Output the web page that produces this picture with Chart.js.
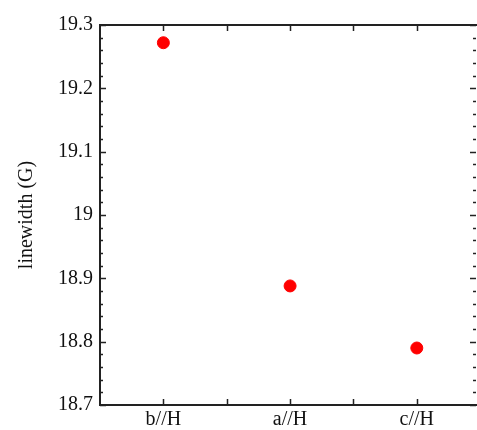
<!DOCTYPE html>
<html>
<head>
<meta charset="utf-8">
<script src="https://cdn.jsdelivr.net/npm/chart.js@4/dist/chart.umd.min.js"></script>
<style>
  html, body { margin: 0; padding: 0; background: #fff; }
  #wrap { width: 477px; height: 430px; }
</style>
</head>
<body>
<div id="wrap"><canvas id="dotchart"></canvas></div>
<script>
var categories = ['b//H', 'a//H', 'c//H'];
var linewidth = [19.272, 18.888, 18.79];
var yTicks = [18.7, 18.8, 18.9, 19, 19.1, 19.2, 19.3];

var points = [];
for (var i = 0; i < categories.length; i++) {
    points.push({ x: i, y: linewidth[i] });
}

// frame and inward ticks on all four sides, like the original plot
var frameTicks = {
    id: 'frameTicks',
    afterDraw: function (chart) {
        var ctx = chart.ctx;
        var a = chart.chartArea;
        var xs = chart.scales.x;
        var ys = chart.scales.y;
        ctx.save();
        ctx.strokeStyle = '#222';
        ctx.lineWidth = 2;
        ctx.beginPath();
        ctx.moveTo(a.right + 2, a.top);
        ctx.lineTo(a.left, a.top);
        ctx.lineTo(a.left, a.bottom);
        ctx.lineTo(a.right + 2, a.bottom);
        ctx.stroke();

        ctx.lineWidth = 1.5;
        ctx.beginPath();
        for (var v = 0; v <= categories.length - 1; v += 0.5) {
            var px = Math.round(xs.getPixelForValue(v)) + 0.5;
            ctx.moveTo(px, a.bottom);
            ctx.lineTo(px, a.bottom - 6);
            ctx.moveTo(px, a.top);
            ctx.lineTo(px, a.top + 6);
        }
        for (var k = 0; k <= 30; k++) {
            var val = yTicks[0] + k * 0.02;
            var py = Math.round(ys.getPixelForValue(val)) + 0.5;
            var len = (k % 5 === 0) ? 6 : 3;
            ctx.moveTo(a.left, py);
            ctx.lineTo(a.left + len, py);
            ctx.moveTo(a.right - 1, py);
            ctx.lineTo(a.right - 1 - len, py);
        }
        ctx.stroke();
        ctx.restore();
    }
};

var ctx = document.getElementById('dotchart').getContext('2d');
var myChart = new Chart(ctx, {
    type: 'scatter',
    data: {
        datasets: [{
            label: 'linewidth',
            data: points,
            backgroundColor: '#ff0000',
            borderColor: '#ff0000',
            pointRadius: 6,
            pointHoverRadius: 6
        }]
    },
    options: {
        responsive: true,
        maintainAspectRatio: false,
        animation: false,
        layout: { autoPadding: false, padding: { top: 25, right: 0, left: 0, bottom: 0 } },
        plugins: {
            legend: { display: false },
            tooltip: { enabled: false }
        },
        scales: {
            x: {
                type: 'linear',
                min: -0.5,
                max: 2.475,
                grid: { display: false, drawTicks: false },
                border: { display: false },
                afterBuildTicks: function (scale) {
                    scale.ticks = categories.map(function (c, i) { return { value: i }; });
                },
                afterFit: function (scale) {
                    scale.height = 25;
                    scale.paddingLeft = 0;
                    scale.paddingRight = 0;
                },
                ticks: {
                    padding: 3,
                    maxRotation: 0,
                    color: '#111',
                    font: { family: 'Liberation Serif', size: 20 },
                    callback: function (v) { return categories[v]; }
                }
            },
            y: {
                min: 18.7,
                max: 19.3,
                grid: { display: false, drawTicks: false },
                border: { display: false },
                afterBuildTicks: function (scale) {
                    scale.ticks = yTicks.map(function (v) { return { value: v }; });
                },
                afterFit: function (scale) { scale.width = 100; },
                title: {
                    display: true,
                    text: 'linewidth (G)',
                    color: '#111',
                    padding: { top: 15, bottom: 0 },
                    font: { family: 'Liberation Serif', size: 20 }
                },
                ticks: {
                    padding: 7,
                    color: '#111',
                    font: { family: 'Liberation Serif', size: 20 },
                    callback: function (v) { return String(Math.round(v * 10) / 10); }
                }
            }
        }
    },
    plugins: [frameTicks]
});
</script>
</body>
</html>
